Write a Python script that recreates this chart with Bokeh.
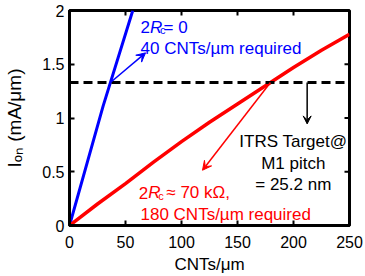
import numpy as np
from bokeh.plotting import figure
from bokeh.models import Label, Arrow, VeeHead, Span, FixedTicker, Range1d
from bokeh.embed import file_html
from bokeh.resources import INLINE

# ---- data ----
cnt_red = [0, 25, 50, 75, 100, 125, 150, 175, 200, 225, 250]
ion_red = [0, 0.20, 0.39, 0.59, 0.78, 0.96, 1.13, 1.30, 1.47, 1.63, 1.78]
cnt_blue = [0, 30, 56.5]
ion_blue = [0, 1.11, 2.0]
itrs_target = 1.33
x_ticks = [0, 50, 100, 150, 200, 250]
x_tick_labels = ["0", "50", "100", "150", "200", "250"]
y_ticks = [0, 0.5, 1, 1.5, 2]
y_tick_labels = ["0", "0.5", "1", "1.5", "2"]

FONT = "Liberation Sans"
X0, X1, Y0, Y1 = 0, 250, 0, 2

p = figure(width=365, height=276, x_range=Range1d(X0, X1), y_range=Range1d(Y0, Y1),
           output_backend="svg", toolbar_location=None,
           min_border_left=69, min_border_right=16, min_border_top=10, min_border_bottom=48)
p.xgrid.visible = False
p.ygrid.visible = False
p.outline_line_color = "black"
p.outline_line_width = 3
p.background_fill_color = "white"
p.border_fill_color = "white"


def style_axis(ax, ticks, labels):
    ax.ticker = FixedTicker(ticks=ticks)
    ax.major_label_overrides = {t: l for t, l in zip(ticks, labels)}
    ax.axis_line_width = 3
    ax.axis_line_color = "black"
    ax.major_tick_in = 5
    ax.major_tick_out = 0
    ax.major_tick_line_width = 2
    ax.minor_tick_line_color = None
    ax.major_label_text_font = FONT
    ax.major_label_text_color = "black"
    ax.major_label_text_font_size = "16px"
    ax.axis_label_text_font = FONT
    ax.axis_label_text_font_style = "normal"
    ax.axis_label_text_color = "black"


style_axis(p.xaxis[0], x_ticks, x_tick_labels)
style_axis(p.yaxis[0], y_ticks, y_tick_labels)
p.xaxis[0].major_label_standoff = 10
p.yaxis[0].major_label_standoff = 5
p.xaxis[0].axis_label = "CNTs/\u03bcm"
p.xaxis[0].axis_label_text_font_size = "17px"
p.xaxis[0].axis_label_standoff = 4
p.yaxis[0].axis_label = "I\u2092\u2099 (mA/\u03bcm)"
p.yaxis[0].axis_label_text_font_size = "19px"
p.yaxis[0].axis_label_standoff = 14

# mirrored inward ticks on top and right edges (5 px long)
tick_len_x = 5 / (280 / (X1 - X0))
tick_len_y = 5 / (218 / (Y1 - Y0))
p.segment(x0=x_ticks, y0=[Y1] * len(x_ticks), x1=x_ticks, y1=[Y1 - tick_len_y] * len(x_ticks),
          line_color="black", line_width=2)
p.segment(x0=[X1] * len(y_ticks), y0=y_ticks, x1=[X1 - tick_len_x] * len(y_ticks), y1=y_ticks,
          line_color="black", line_width=2)

# target line
p.add_layout(Span(location=itrs_target, dimension="width", line_color="black",
                  line_width=3, line_dash="9 5"))

# curves
p.line(cnt_blue, ion_blue, line_color="blue", line_width=3)
p.line(cnt_red, ion_red, line_color="red", line_width=3.5)

# arrows
blue_cross = float(np.interp(itrs_target, ion_blue, cnt_blue))
red_cross = float(np.interp(itrs_target, ion_red, cnt_red))
p.add_layout(Arrow(end=VeeHead(size=9, fill_color="blue", line_color="blue"),
                   x_start=blue_cross, y_start=itrs_target, x_end=67.9, y_end=1.606,
                   line_color="blue", line_width=1.5))
p.add_layout(Arrow(end=VeeHead(size=9, fill_color="red", line_color="red"),
                   x_start=red_cross, y_start=itrs_target, x_end=118.75, y_end=0.514,
                   line_color="red", line_width=1.5))
p.add_layout(Arrow(end=VeeHead(size=8, fill_color="black", line_color="black"),
                   x_start=212.2, y_start=itrs_target, x_end=212.2, y_end=0.945,
                   line_color="black", line_width=1.5))


def lab(x, y, text, color, size="17px", style="normal", dx=0, dy=0, align="left"):
    p.add_layout(Label(x=x, y=y, text=text, text_color=color, text_font=FONT,
                       text_font_size=size, text_font_style=style, x_offset=dx, y_offset=dy,
                       text_align=align, text_baseline="alphabetic"))


# blue annotation
lab(63.4, 1.844, "2", "blue")
lab(63.4, 1.844, "R", "blue", style="italic", dx=9.5)
lab(63.4, 1.844, "c", "blue", size="11px", dx=19.5, dy=-3)
lab(63.4, 1.844, "= 0", "blue", dx=23)
lab(63.4, 1.647, "40 CNTs/\u00b5m required", "blue")

# red annotation
lab(61.9, 0.303, "2", "red")
lab(61.9, 0.303, "R", "red", style="italic", dx=9.5)
lab(61.9, 0.303, "c", "red", size="11px", dx=19.5, dy=-3)
lab(61.9, 0.303, "\u2248 70 k\u03a9,", "red", dx=27.5)
lab(63.4, 0.104, "180 CNTs/\u00b5m required", "red")

# black annotation
lab(199.8, 0.783, "ITRS Target@", "black", align="center")
lab(199.8, 0.578, "M1 pitch", "black", align="center")
lab(199.8, 0.379, "= 25.2 nm", "black", align="center")

open("out.html", "w").write(file_html(p, INLINE))
